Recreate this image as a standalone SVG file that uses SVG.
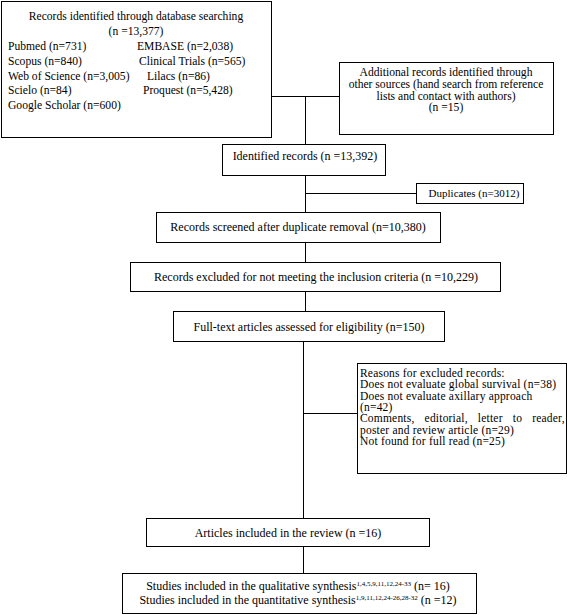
<svg xmlns="http://www.w3.org/2000/svg" width="567" height="615" viewBox="0 0 567 615" font-family="'Liberation Serif', 'Times New Roman', 'DejaVu Serif', serif" font-size="12">
<style>
.box{fill:#fff;stroke:#000;stroke-width:1}
.ln{fill:none;stroke:#000;stroke-width:1}
text{font-family:'Liberation Serif','Times New Roman','DejaVu Serif',serif;font-size:12px;fill:#000}
.c{text-anchor:middle}
.sup{font-size:7px}
.r{font-size:11.5px;letter-spacing:0.2px}
.a{font-size:11.6px}
.s{font-size:11.6px}
.d{font-size:11px}
</style>
<rect width="567" height="615" fill="#fff"/>
<g id="connectors">
<path class="ln" d="M271.5,96.5H339.5"/>
<path class="ln" d="M305.5,96.5V144"/>
<path class="ln" d="M305.5,175V212"/>
<path class="ln" d="M305.5,193.5H416"/>
<path class="ln" d="M305.5,242V262"/>
<path class="ln" d="M305.5,291V311"/>
<path class="ln" d="M303.5,341V518"/>
<path class="ln" d="M303.5,413.5H357"/>
<path class="ln" d="M303.5,546V573"/>
</g>
<g id="n1">
<rect class="box" x="1.5" y="1.5" width="270" height="136"/>
<text class="c a" x="136" y="20">Records identified through database searching</text>
<text class="c a" x="136" y="35">(n =13,377)</text>
<text class="a" x="8" y="50">Pubmed (n=731)</text>
<text class="a" x="137" y="50">EMBASE (n=2,038)</text>
<text class="a" x="8" y="65">Scopus (n=840)</text>
<text class="a" x="139" y="65">Clinical Trials (n=565)</text>
<text class="a" x="8" y="80">Web of Science (n=3,005)</text>
<text class="a" x="147" y="80">Lilacs (n=86)</text>
<text class="a" x="8" y="94">Scielo (n=84)</text>
<text class="a" x="143" y="94">Proquest (n=5,428)</text>
<text class="a" x="8" y="109">Google Scholar (n=600)</text>
</g>
<g id="n2">
<rect class="box" x="339.5" y="62.5" width="214" height="72"/>
<text class="c s" x="446" y="76">Additional records identified through</text>
<text class="c s" x="446" y="88">other sources (hand search from reference</text>
<text class="c s" x="446" y="99.5">lists and contact with authors)</text>
<text class="c s" x="446" y="111">(n =15)</text>
</g>
<g id="n3">
<rect class="box" x="222.5" y="144.5" width="163" height="31"/>
<text class="c" x="305" y="160">Identified records (n =13,392)</text>
</g>
<g id="n4">
<rect class="box" x="416.5" y="183.5" width="107" height="20"/>
<text class="c d" x="474" y="197">Duplicates (n=3012)</text>
</g>
<g id="n5">
<rect class="box" x="156.5" y="212.5" width="284" height="30"/>
<text class="c" x="298" y="231">Records screened after duplicate removal (n=10,380)</text>
</g>
<g id="n6">
<rect class="box" x="130.5" y="262.5" width="370" height="29"/>
<text class="c" x="316" y="281">Records excluded for not meeting the inclusion criteria (n =10,229)</text>
</g>
<g id="n7">
<rect class="box" x="173.5" y="311.5" width="271" height="30"/>
<text class="c" x="309" y="331">Full-text articles assessed for eligibility (n=150)</text>
</g>
<g id="n8">
<rect class="box" x="357.5" y="363.5" width="209" height="110"/>
<text class="r" x="360" y="377">Reasons for excluded records:</text>
<text class="r" x="360" y="388">Does not evaluate global survival (n=38)</text>
<text class="r" x="360" y="399.5">Does not evaluate axillary approach</text>
<text class="r" x="360" y="411">(n=42)</text>
<text class="r" x="360" y="422" word-spacing="7">Comments, editorial, letter to reader,</text>
<text class="r" x="360" y="433.5">poster and review article (n=29)</text>
<text class="r" x="360" y="445">Not found for full read (n=25)</text>
</g>
<g id="n9">
<rect class="box" x="146.5" y="518.5" width="283" height="28"/>
<text class="c" x="288" y="537">Articles included in the review (n =16)</text>
</g>
<g id="n10">
<rect class="box" x="122.5" y="573.5" width="354" height="40"/>
<text class="c" x="298" y="590">Studies included in the qualitative synthesis<tspan class="sup" dy="-4">1,4,5,9,11,12,24-33</tspan><tspan dy="4"> (n= 16)</tspan></text>
<text class="c" x="298" y="604">Studies included in the quantitative synthesis<tspan class="sup" dy="-4">1,9,11,12,24-26,28-32</tspan><tspan dy="4"> (n =12)</tspan></text>
</g>
</svg>
